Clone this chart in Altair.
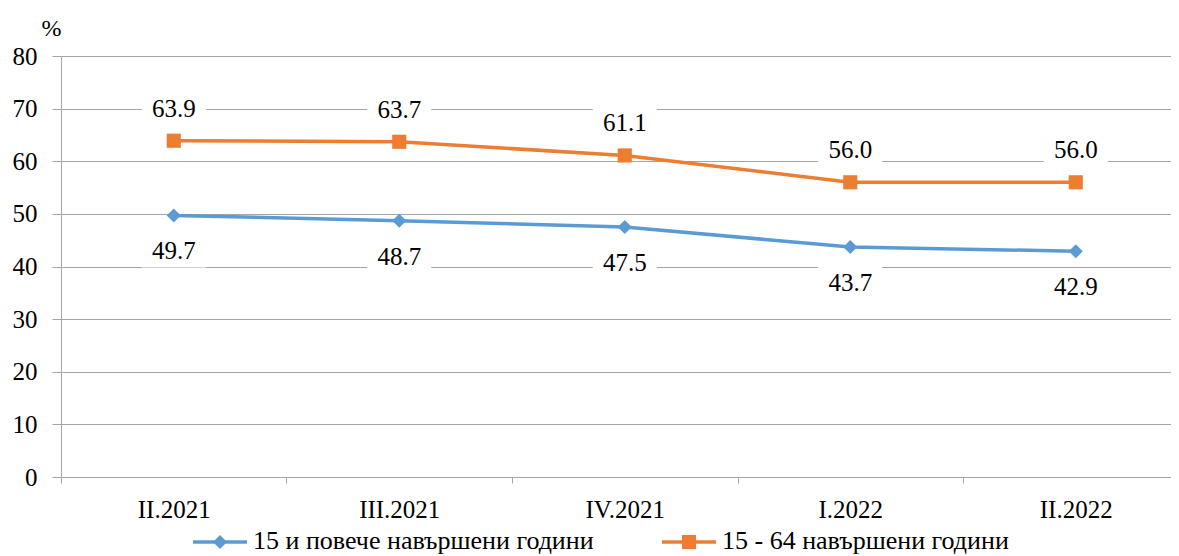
import altair as alt
import pandas as pd

categories = ["II.2021", "III.2021", "IV.2021", "I.2022", "II.2022"]
series_names = ["15 и повече навършени години", "15 - 64 навършени години"]
values_15plus = [49.7, 48.7, 47.5, 43.7, 42.9]
values_15_64 = [63.9, 63.7, 61.1, 56.0, 56.0]
colors = ["#5B9BD5", "#ED7D31"]
y_ticks = [0, 10, 20, 30, 40, 50, 60, 70, 80]

rows = []
for name, vals in zip(series_names, [values_15plus, values_15_64]):
    for i, (c, v) in enumerate(zip(categories, vals)):
        rows.append({"idx": i, "period": c, "series": name, "value": v, "label": f"{v:.1f}"})
df = pd.DataFrame(rows)

FONT = "Liberation Serif, Times New Roman, serif"
GRID = "#A6A6A6"
W, H = 1110, 421

n = len(categories)
x_values = [k * 0.5 for k in range(-1, 2 * n)]  # band edges and centres
cat_js = "[" + ",".join("'" + c + "'" for c in categories) + "]"

x = alt.X(
    "idx:Q",
    scale=alt.Scale(domain=[-0.5, -0.5 + W / 225.5], nice=False, zero=False),
    axis=alt.Axis(
        title=None, values=x_values, tickSize=6, labelPadding=14, labelAngle=0,
        labelExpr=f"datum.value % 1 === 0 ? {cat_js}[datum.value] : ''",
        labelOverlap=False, labelFlush=False,
        labelFont=FONT, labelFontSize=25, labelColor="black",
        tickOpacity={"condition": {"test": "datum.value % 1 === 0", "value": 0}, "value": 1},
        domainColor=GRID, tickColor=GRID, grid=False,
    ),
)
y = alt.Y(
    "value:Q",
    scale=alt.Scale(domain=[0, 80], nice=False),
    axis=alt.Axis(
        title="%", titleAngle=0, titleX=-10, titleY=-21, titleAlign="center",
        titleBaseline="alphabetic", titleFont=FONT, titleFontSize=24,
        titleFontWeight="normal", titleColor="black",
        values=y_ticks, tickSize=9, labelPadding=15,
        labelFont=FONT, labelFontSize=25, labelColor="black",
        domainColor=GRID, tickColor=GRID, gridColor=GRID, grid=True,
    ),
)
color = alt.Color("series:N", scale=alt.Scale(domain=series_names, range=colors), legend=None)

base = alt.Chart(df)
blue = alt.datum.series == series_names[0]
orange = alt.datum.series == series_names[1]

box_path = "M-1,-0.5H1V0.5H-1Z"
boxes_top = base.transform_filter(orange).mark_point(
    shape=box_path, size=4096, filled=True, opacity=1, yOffset=-32
).encode(x=x, y=y, color=alt.value("white"))
boxes_bottom = base.transform_filter(blue).mark_point(
    shape=box_path, size=4096, filled=True, opacity=1, yOffset=36
).encode(x=x, y=y, color=alt.value("white"))

lines = base.mark_line(strokeWidth=3.5).encode(x=x, y=y, color=color, detail="series:N")
pts_blue = base.transform_filter(blue).mark_point(
    shape="diamond", size=196, filled=True, opacity=1
).encode(x=x, y=y, color=color)
pts_orange = base.transform_filter(orange).mark_point(
    shape="square", size=200, filled=True, opacity=1
).encode(x=x, y=y, color=color)

txt_top = base.transform_filter(orange).mark_text(
    font=FONT, fontSize=25, color="black", dy=-32, baseline="middle"
).encode(x=x, y=y, text="label:N")
txt_bottom = base.transform_filter(blue).mark_text(
    font=FONT, fontSize=25, color="black", dy=36, baseline="middle"
).encode(x=x, y=y, text="label:N")

# legend (below the axis)
leg_data = alt.Chart(pd.DataFrame({"series": series_names}))
legend_layers = []
for name, shape, sx in zip(series_names, ["diamond", "square"], [132, 601]):
    one = leg_data.transform_filter(alt.datum.series == name)
    legend_layers += [
        one.mark_rule(strokeWidth=3.5).encode(
            x=alt.value(sx), x2=alt.value(sx + 54), y=alt.value(H + 65), color=color),
        one.mark_point(shape=shape, size=196 if shape == "diamond" else 200,
                       filled=True, opacity=1).encode(
            x=alt.value(sx + 27), y=alt.value(H + 65), color=color),
        one.mark_text(font=FONT, fontSize=26, color="black", align="left",
                      baseline="alphabetic").encode(
            x=alt.value(sx + 60), y=alt.value(H + 72), text="series:N"),
    ]

chart = alt.layer(
    boxes_top, boxes_bottom, lines, pts_blue, pts_orange, txt_top, txt_bottom, *legend_layers
).properties(
    width=W, height=H,
    autosize=alt.AutoSizeParams(type="none"),
    padding={"left": 53, "top": 48, "right": 0, "bottom": 79},
).configure_view(stroke=None)

chart.save("out.html", embed_options={"renderer": "svg", "actions": False})
